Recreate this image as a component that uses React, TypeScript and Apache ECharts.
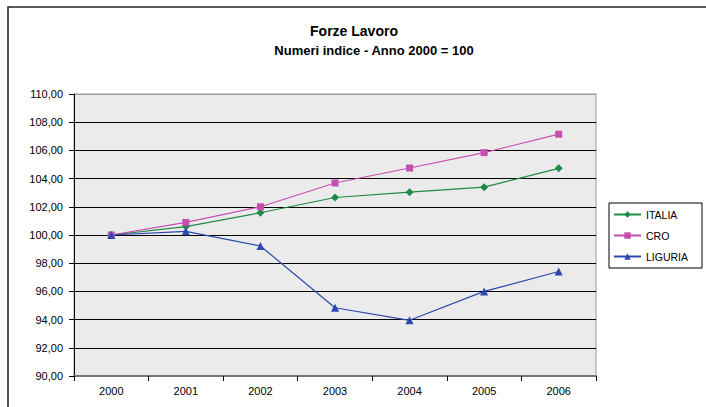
import React, { useEffect, useRef } from "react";
import * as echarts from "echarts";

const years = ["2000", "2001", "2002", "2003", "2004", "2005", "2006"];
const italia = [100.0, 100.6, 101.58, 102.66, 103.04, 103.39, 104.73];
const cro = [100.0, 100.89, 102.0, 103.69, 104.75, 105.84, 107.15];
const liguria = [100.0, 100.26, 99.22, 94.84, 93.95, 96.0, 97.41];

const title = "Forze Lavoro";
const subtitle = "Numeri indice - Anno 2000 = 100";

export default function App() {
  const ref = useRef<HTMLDivElement>(null);
  useEffect(() => {
    if (!ref.current) return;
    const chart = echarts.init(ref.current, undefined, { renderer: "svg" });
    const font = "'Liberation Sans', Arial, sans-serif";
    const splitColors = Array.from({ length: 11 }, (_, i) => (i === 10 ? "#9a9a9a" : "#000000"));
    chart.setOption({
      animation: false,
      backgroundColor: "#ffffff",
      textStyle: { fontFamily: font },
      graphic: [
        {
          type: "rect",
          shape: { x: 8, y: 7, width: 720, height: 440 },
          style: { fill: "none", stroke: "#222", lineWidth: 1.5 },
          z: -1,
        },
        {
          type: "text",
          x: 354,
          y: 31,
          style: {
            text: title,
            font: `bold 14px ${font}`,
            fill: "#000",
            textAlign: "center",
            textVerticalAlign: "middle",
          },
        },
        {
          type: "text",
          x: 374,
          y: 50,
          style: {
            text: subtitle,
            font: `bold 13px ${font}`,
            fill: "#000",
            textAlign: "center",
            textVerticalAlign: "middle",
          },
        },
      ],
      grid: {
        left: 74,
        top: 94,
        width: 522,
        height: 282,
        show: true,
        backgroundColor: "#ebebeb",
        borderColor: "#9a9a9a",
        borderWidth: 1,
        containLabel: false,
      },
      legend: {
        orient: "vertical",
        left: 609,
        top: 203,
        padding: [6, 14, 6, 4],
        itemWidth: 27,
        itemHeight: 8,
        itemGap: 10,
        borderColor: "#000",
        borderWidth: 1,
        backgroundColor: "#fff",
        textStyle: { fontSize: 10.5, color: "#000", fontFamily: font },
        data: ["ITALIA", "CRO", "LIGURIA"],
      },
      xAxis: {
        type: "category",
        data: years,
        boundaryGap: true,
        axisLine: { show: true, lineStyle: { color: "#777", width: 2 } },
        axisTick: { show: true, length: 5, lineStyle: { color: "#000" } },
        axisLabel: { color: "#000", fontSize: 11, margin: 9, fontFamily: font },
        splitLine: { show: false },
      },
      yAxis: {
        type: "value",
        min: 90,
        max: 110,
        interval: 2,
        axisLine: { show: true, lineStyle: { color: "#000", width: 1 } },
        axisTick: { show: true, length: 5, lineStyle: { color: "#000" } },
        axisLabel: {
          color: "#000",
          fontSize: 11,
          margin: 11,
          fontFamily: font,
          formatter: (v: number) => v.toFixed(2).replace(".", ","),
        },
        splitLine: { show: true, lineStyle: { color: splitColors, width: 1 } },
      },
      series: [
        {
          name: "ITALIA",
          type: "line",
          data: italia,
          symbol: "diamond",
          symbolSize: 8,
          color: "#1f8a46",
          lineStyle: { width: 1.2, color: "#1f8a46" },
          itemStyle: { color: "#1f8a46" },
        },
        {
          name: "CRO",
          type: "line",
          data: cro,
          symbol: "rect",
          symbolSize: 7,
          color: "#c54fb0",
          lineStyle: { width: 1.2, color: "#c54fb0" },
          itemStyle: { color: "#c54fb0" },
        },
        {
          name: "LIGURIA",
          type: "line",
          data: liguria,
          symbol: "triangle",
          symbolSize: 8,
          color: "#2c48b0",
          lineStyle: { width: 1.2, color: "#2c48b0" },
          itemStyle: { color: "#2c48b0" },
        },
      ],
    });
    return () => chart.dispose();
  }, []);
  return <div ref={ref} style={{ width: 706, height: 407, position: "absolute", left: 0, top: 0 }} />;
}
